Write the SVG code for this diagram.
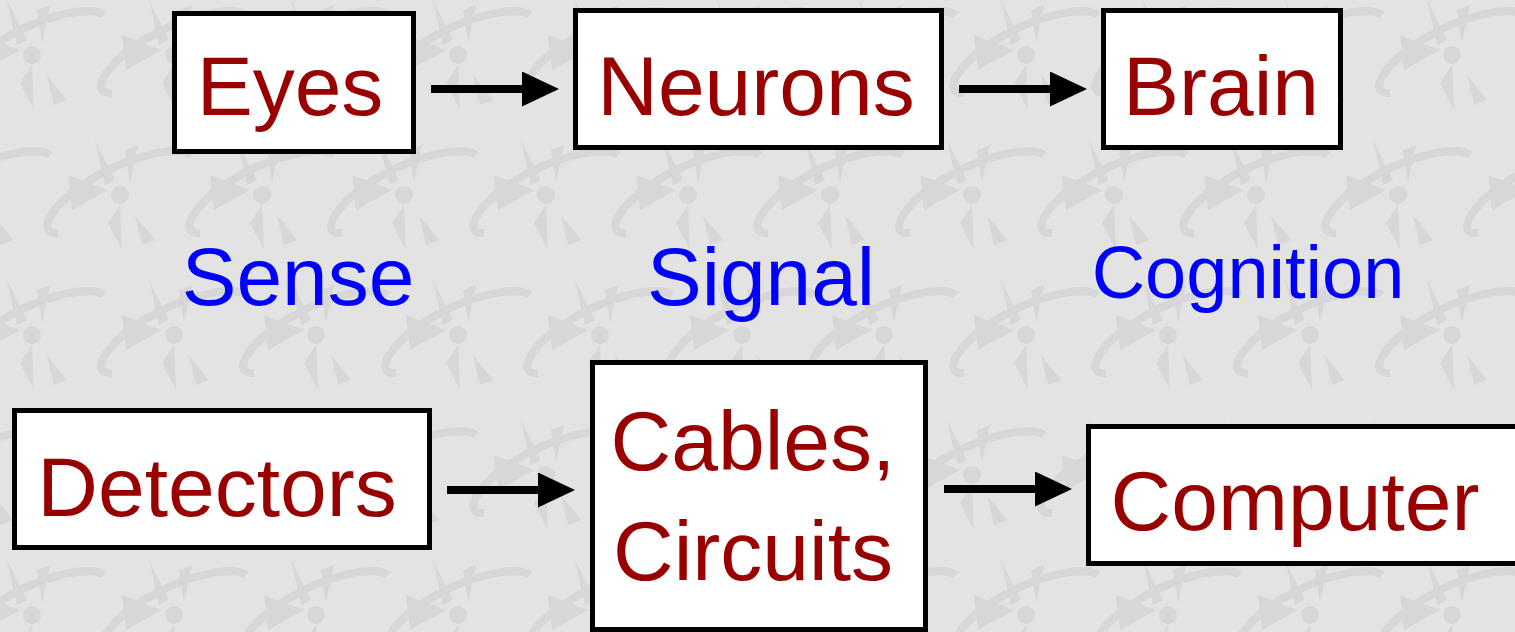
<svg xmlns="http://www.w3.org/2000/svg" width="1515" height="632" viewBox="0 0 1515 632">
<defs>
<style>
.box{fill:#ffffff;stroke:#000000;stroke-width:5}
.lbl{font-family:"Liberation Sans",Arial,sans-serif;font-size:84px;fill:#990000;text-anchor:middle}
.cat{font-family:"Liberation Sans",Arial,sans-serif;fill:#0000ff;text-anchor:middle}
.conn{stroke:#000000;stroke-width:8;fill:none}
.petal{fill:#d7d7d7}
.ring{fill:none;stroke:#d7d7d7;stroke-width:8}
</style>
<marker id="ah" markerUnits="userSpaceOnUse" markerWidth="40" markerHeight="36" refX="1" refY="17.5" orient="auto">
<path d="M0,0 L37,17.5 L0,35 z" fill="#000000"/>
</marker>
<g id="logo">
<path class="ring" d="M-62,38 C-85,40 -70,10 -30,-15 C10,-40 60,-50 72,-40"/>
<path class="petal" d="M-25,-55 L-5,-15 L-15,-10 z"/>
<path class="petal" d="M-52,-20 L-12,-5 L-48,15 z"/>
<path class="petal" d="M5,-45 L18,-50 L10,-12 z"/>
<path class="petal" d="M15,20 L35,45 L22,50 z"/>
<path class="petal" d="M-12,28 L0,10 L2,55 z"/>
<circle cx="0" cy="0" r="9" fill="#d7d7d7"/>
</g>
<pattern id="bg" patternUnits="userSpaceOnUse" width="142" height="280" x="0" y="0">
<rect width="142" height="280" fill="#e3e3e3"/>
<use href="#logo" x="32" y="55"/>
<use href="#logo" x="174" y="55"/>
<use href="#logo" x="32" y="335"/>
<use href="#logo" x="174" y="335"/>
<use href="#logo" x="120" y="195"/>
<use href="#logo" x="-22" y="195"/>
<use href="#logo" x="120" y="-85"/>
<use href="#logo" x="-22" y="-85"/>
</pattern>
</defs>
<rect width="1515" height="632" fill="url(#bg)"/>
<g id="connectors">
<line class="conn" x1="431" y1="89" x2="523" y2="89" marker-end="url(#ah)"/>
<line class="conn" x1="959" y1="89" x2="1051" y2="89" marker-end="url(#ah)"/>
<line class="conn" x1="447" y1="490" x2="539" y2="490" marker-end="url(#ah)"/>
<line class="conn" x1="944" y1="489" x2="1036" y2="489" marker-end="url(#ah)"/>
</g>
<g id="eyes">
<rect class="box" x="174.5" y="13.5" width="239" height="138"/>
<text class="lbl" x="290" y="115">Eyes</text>
</g>
<g id="neurons">
<rect class="box" x="575.5" y="10.5" width="366" height="137"/>
<text class="lbl" x="756" y="115">Neurons</text>
</g>
<g id="brain">
<rect class="box" x="1103.5" y="10.5" width="237" height="137"/>
<text class="lbl" x="1221" y="115">Brain</text>
</g>
<g id="sense">
<text class="cat" x="298" y="305" font-size="82">Sense</text>
</g>
<g id="signal">
<text class="cat" x="761" y="305" font-size="82">Signal</text>
</g>
<g id="cognition">
<text class="cat" x="1248" y="298" font-size="74">Cognition</text>
</g>
<g id="detectors">
<rect class="box" x="14.5" y="410.5" width="415" height="137"/>
<text class="lbl" x="217" y="516">Detectors</text>
</g>
<g id="cables">
<rect class="box" x="592.5" y="362.5" width="333" height="267"/>
<text class="lbl" x="753" y="470">Cables,</text>
<text class="lbl" x="753" y="580">Circuits</text>
</g>
<g id="computer">
<rect class="box" x="1088.5" y="426.5" width="440" height="137"/>
<text class="lbl" x="1295" y="530">Computer</text>
</g>
</svg>
